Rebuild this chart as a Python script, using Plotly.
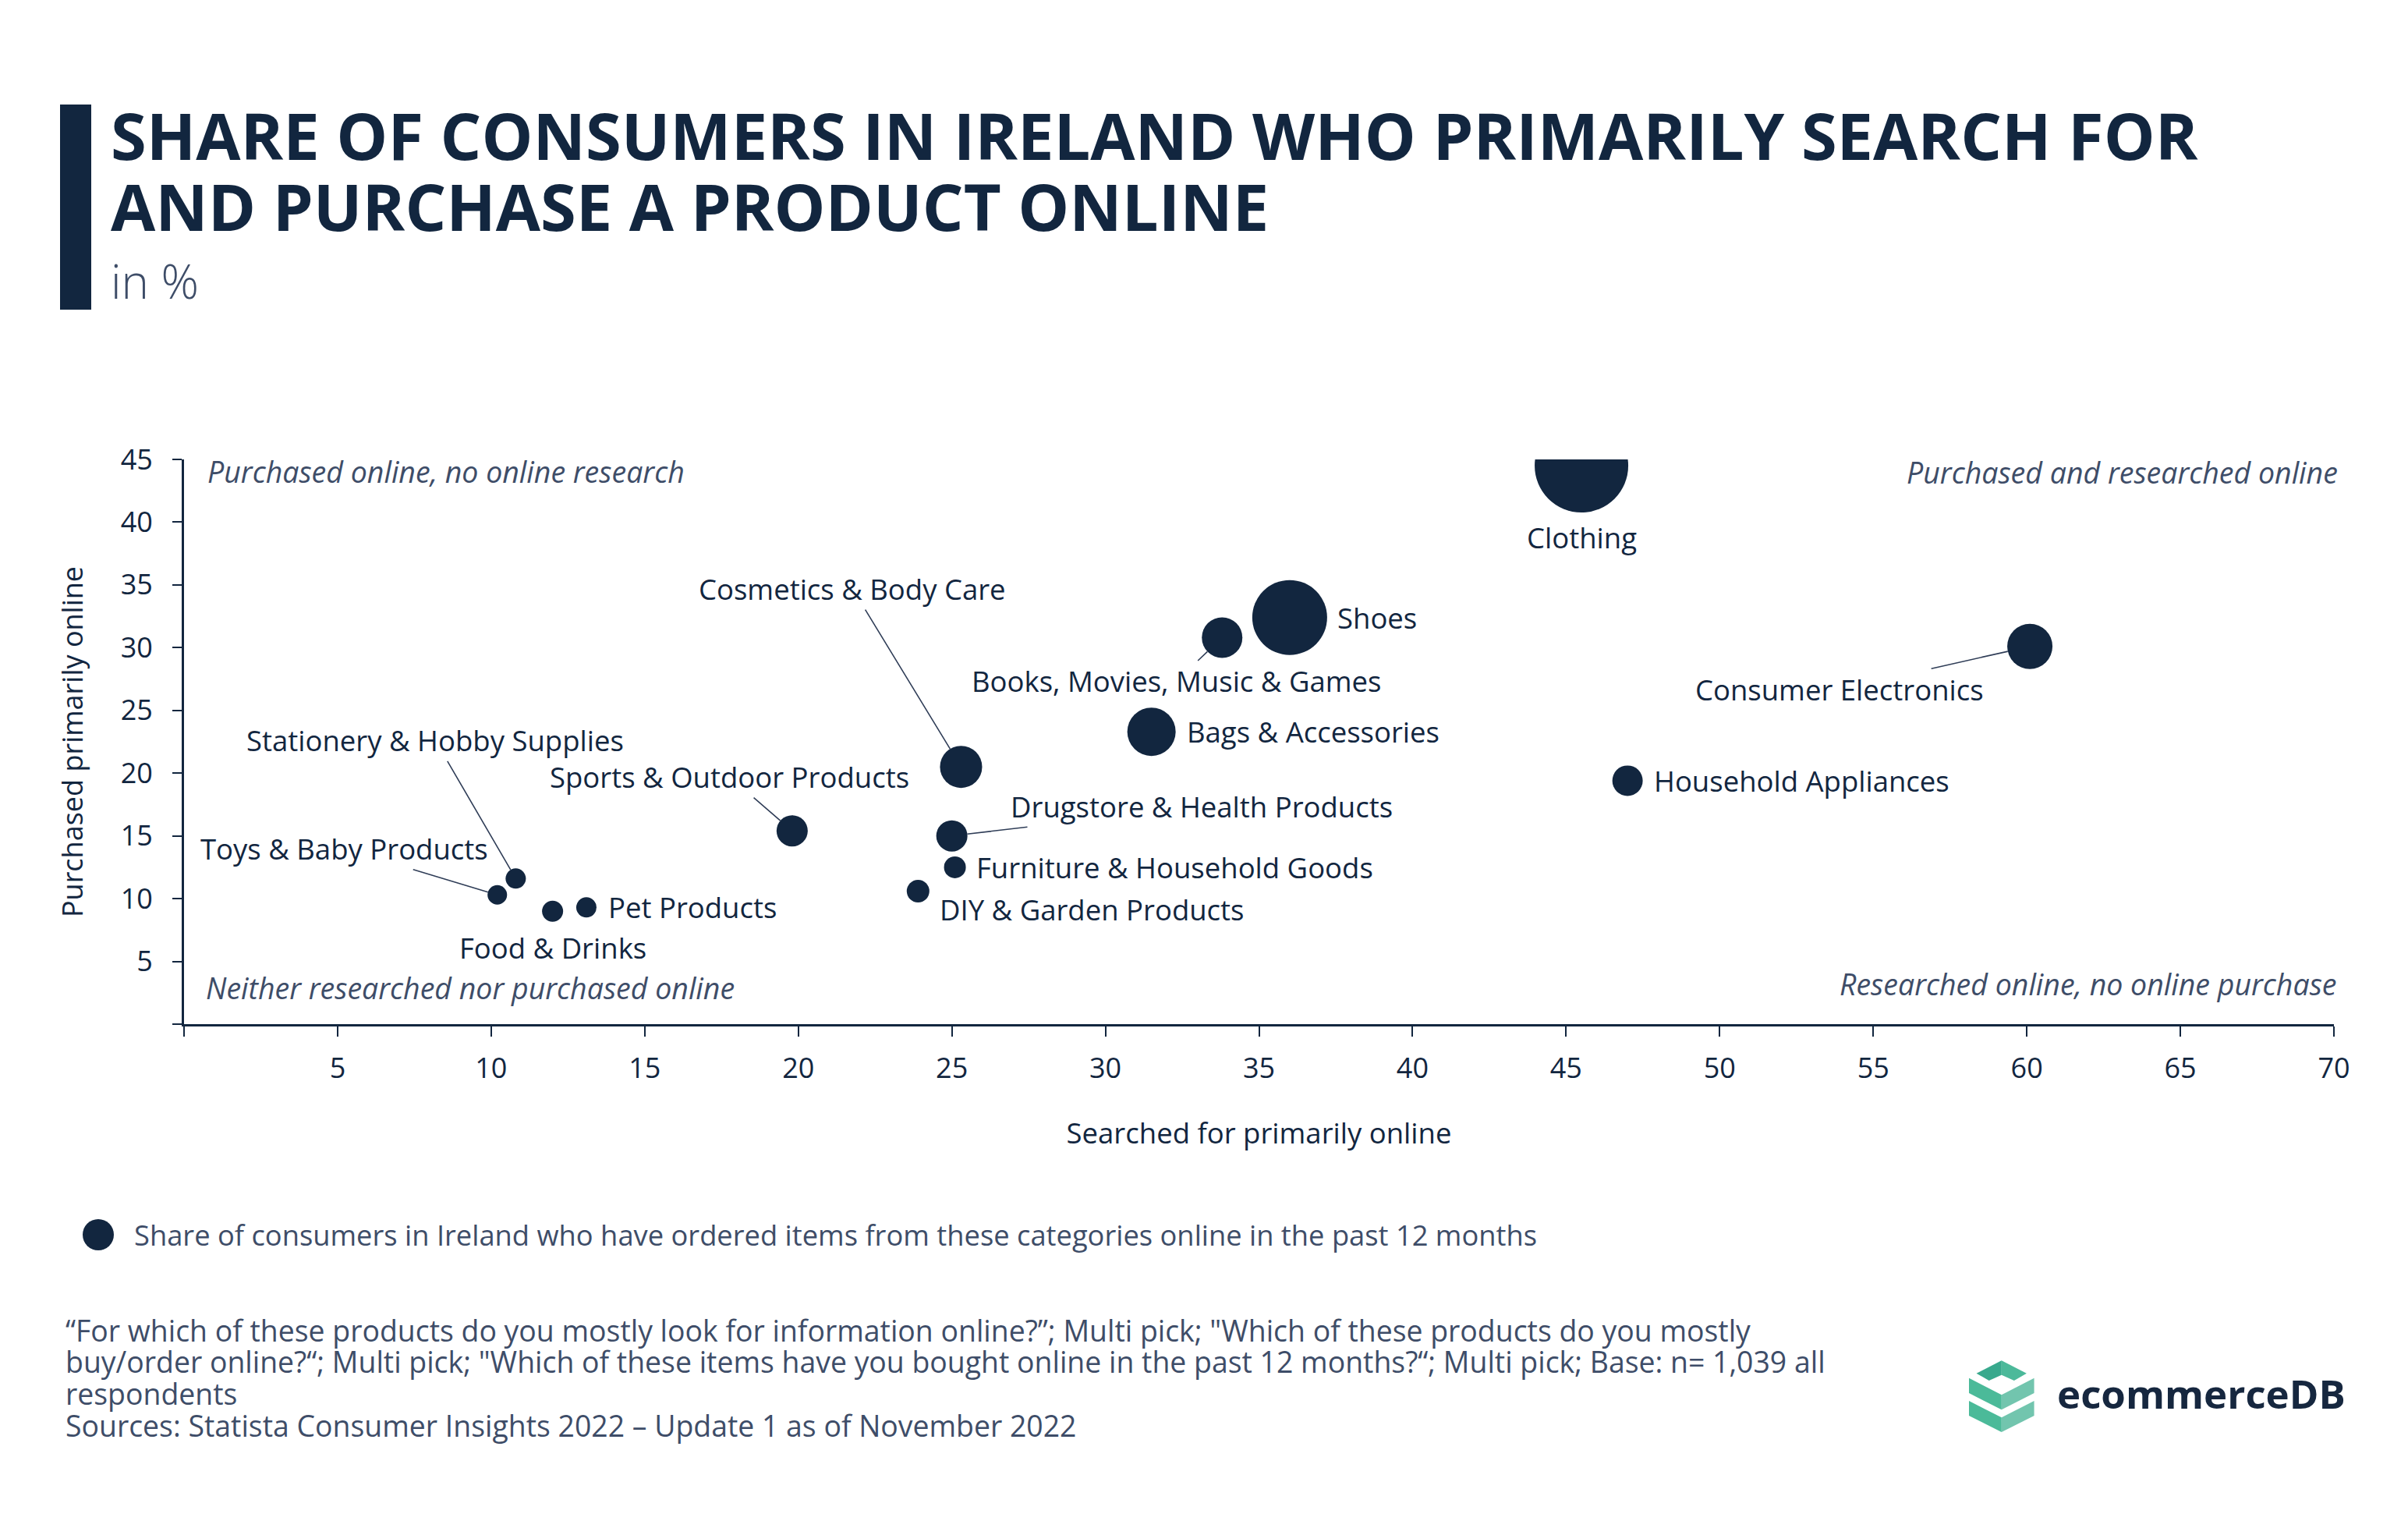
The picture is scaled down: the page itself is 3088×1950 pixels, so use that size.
import plotly.graph_objects as go

# ---------------- data ----------------
categories = [
    "Clothing", "Shoes", "Bags & Accessories", "Consumer Electronics",
    "Cosmetics & Body Care", "Books, Movies, Music & Games",
    "Drugstore & Health Products", "Sports & Outdoor Products",
    "Household Appliances", "DIY & Garden Products",
    "Furniture & Household Goods", "Food & Drinks", "Pet Products",
    "Stationery & Hobby Supplies", "Toys & Baby Products",
]
searched_online = [45.5, 36.0, 31.5, 60.1, 25.3, 33.8, 25.0, 19.8, 47.0, 23.9, 25.1, 12.0, 13.1, 10.8, 10.2]
purchased_online = [44.5, 32.4, 23.3, 30.1, 20.5, 30.8, 15.0, 15.4, 19.4, 10.6, 12.5, 9.0, 9.3, 11.6, 10.3]
ordered_past_12m = [60, 48, 31, 29, 27, 26, 20, 20, 19.5, 14.5, 14, 13.5, 13, 13, 12.5]

x_ticks = [0, 5, 10, 15, 20, 25, 30, 35, 40, 45, 50, 55, 60, 65, 70]
y_ticks = [0, 5, 10, 15, 20, 25, 30, 35, 40, 45]

# ---------------- style ----------------
W, H = 3088, 1950
ML, MR, MT, MB = 236, 95, 589, 637
PW, PH = W - ML - MR, H - MT - MB
NAVY = "#12263f"
GREY = "#3e4d68"
FONT = "Open Sans"
SIZEREF = 0.5  # diameter mode: radius(px) = value / (2*sizeref)


def pxx(x):
    return (x - ML) / PW


def pxy(y):
    return (H - MB - y) / PH


# label placement (pixel offsets relative to bubble)
label_style = {
    "Clothing": dict(kind="below", dy=92),
    "Shoes": dict(kind="right", gap=11, dy=0),
    "Bags & Accessories": dict(kind="right", gap=12, dy=0),
    "Consumer Electronics": dict(kind="arrow", ax=-244, ay=55),
    "Cosmetics & Body Care": dict(kind="arrow", ax=-139, ay=-228),
    "Books, Movies, Music & Games": dict(kind="arrow", ax=-59, ay=56),
    "Drugstore & Health Products": dict(kind="arrow", ax=320, ay=-38),
    "Sports & Outdoor Products": dict(kind="arrow", ax=-80, ay=-69),
    "Household Appliances": dict(kind="right", gap=12, dy=0),
    "DIY & Garden Products": dict(kind="right", gap=11, dy=24),
    "Furniture & Household Goods": dict(kind="right", gap=11, dy=0),
    "Food & Drinks": dict(kind="below", dy=47),
    "Pet Products": dict(kind="right", gap=13, dy=0),
    "Stationery & Hobby Supplies": dict(kind="arrow", ax=-103, ay=-177),
    "Toys & Baby Products": dict(kind="arrow", ax=-196, ay=-59),
}

fig = go.Figure()
fig.add_trace(go.Scatter(
    x=searched_online, y=purchased_online, mode="markers",
    text=categories,
    marker=dict(size=ordered_past_12m, sizemode="diameter", sizeref=SIZEREF,
                color=NAVY, opacity=1, line=dict(width=0)),
    hovertemplate="%{text}<br>Searched: %{x}%<br>Purchased: %{y}%<extra></extra>",
    showlegend=False,
))

annotations = []
label_font = dict(family=FONT, size=36.5, color=NAVY)
for cat, xv, yv, sv in zip(categories, searched_online, purchased_online, ordered_past_12m):
    st = label_style[cat]
    r = sv / (2 * SIZEREF)
    if st["kind"] == "right":
        annotations.append(dict(x=xv, y=yv, xref="x", yref="y", text=cat, showarrow=False,
                                xanchor="left", yanchor="middle", xshift=r + st["gap"],
                                yshift=-st["dy"], font=label_font))
    elif st["kind"] == "below":
        annotations.append(dict(x=xv, y=yv, xref="x", yref="y", text=cat, showarrow=False,
                                xanchor="center", yanchor="middle", yshift=-st["dy"],
                                font=label_font))
    else:
        annotations.append(dict(x=xv, y=yv, xref="x", yref="y", text=cat, showarrow=True,
                                arrowhead=0, arrowwidth=1.6, arrowcolor="#2f3d57",
                                ax=st["ax"], ay=st["ay"], standoff=r, font=label_font))

# quadrant labels
qfont = dict(family=FONT, size=37.5, color=GREY, style="italic")
annotations += [
    dict(x=0, y=1, xref="paper", yref="paper", text="Purchased online, no online research",
         showarrow=False, xanchor="left", yanchor="middle", xshift=28, yshift=-15, font=qfont),
    dict(x=1, y=1, xref="paper", yref="paper", text="Purchased and researched online",
         showarrow=False, xanchor="right", yanchor="middle", xshift=7, yshift=-16, font=qfont),
    dict(x=0, y=0, xref="paper", yref="paper", text="Neither researched nor purchased online",
         showarrow=False, xanchor="left", yanchor="middle", xshift=26, yshift=47, font=qfont),
    dict(x=1, y=0, xref="paper", yref="paper", text="Researched online, no online purchase",
         showarrow=False, xanchor="right", yanchor="middle", xshift=6, yshift=52, font=qfont),
]

# title block
annotations += [
    dict(x=pxx(140), y=pxy(172), xref="paper", yref="paper",
         text="<b>SHARE OF CONSUMERS IN IRELAND WHO PRIMARILY SEARCH FOR</b>",
         showarrow=False, xanchor="left", yanchor="middle",
         font=dict(family=FONT, size=83, color=NAVY)),
    dict(x=pxx(140), y=pxy(263), xref="paper", yref="paper",
         text="<b>AND PURCHASE A PRODUCT ONLINE</b>",
         showarrow=False, xanchor="left", yanchor="middle",
         font=dict(family=FONT, size=83, color=NAVY)),
    dict(x=pxx(140), y=pxy(360), xref="paper", yref="paper", text="in %",
         showarrow=False, xanchor="left", yanchor="middle",
         font=dict(family=FONT, size=60, color=GREY, weight=300)),
]

# legend text
annotations.append(dict(
    x=pxx(170), y=pxy(1583), xref="paper", yref="paper",
    text="Share of consumers in Ireland who have ordered items from these categories online in the past 12 months",
    showarrow=False, xanchor="left", yanchor="middle",
    font=dict(family=FONT, size=36.3, color=GREY)))

# footer
footer_lines = [
    "\u201cFor which of these products do you mostly look for information online?\u201d; Multi pick; \"Which of these products do you mostly",
    "buy/order online?\u201c; Multi pick; \"Which of these items have you bought online in the past 12 months?\u201c; Multi pick; Base: n= 1,039 all",
    "respondents",
    "Sources: Statista Consumer Insights 2022 \u2013 Update 1 as of November 2022",
]
for i, line in enumerate(footer_lines):
    annotations.append(dict(
        x=pxx(82), y=pxy(1705 + i * 40.7), xref="paper", yref="paper", text=line,
        showarrow=False, xanchor="left", yanchor="middle",
        font=dict(family=FONT, size=37.4, color=GREY)))

# logo text
annotations.append(dict(
    x=pxx(2636), y=pxy(1786), xref="paper", yref="paper", text="<b>ecommerceDB</b>",
    showarrow=False, xanchor="left", yanchor="middle",
    font=dict(family=FONT, size=51, color="#16273f")))

shapes = []
# title bar
shapes.append(dict(type="rect", xref="paper", yref="paper",
                   x0=pxx(77), x1=pxx(117), y0=pxy(397), y1=pxy(134),
                   fillcolor=NAVY, line=dict(width=0)))
# legend dot
shapes.append(dict(type="circle", xref="paper", yref="paper",
                   x0=pxx(106), x1=pxx(146), y0=pxy(1603), y1=pxy(1563),
                   fillcolor=NAVY, line=dict(width=0)))


def poly(pts):
    return "M " + " L ".join(f"{pxx(a):.5f},{pxy(b):.5f}" for a, b in pts) + " Z"


logo_parts = [
    ([(2534.6, 1760.7), (2566.8, 1744.3), (2566.8, 1762.7), (2550.7, 1770)], "#38a98d"),
    ([(2566.8, 1744.3), (2598.9, 1760.7), (2582.9, 1770), (2566.8, 1762.7)], "#4cb99a"),
    ([(2525, 1766.7), (2566.8, 1788.3), (2566.8, 1807.3), (2525, 1786)], "#4bba99"),
    ([(2566.8, 1788.3), (2608.6, 1766.7), (2608.6, 1786), (2566.8, 1807.3)], "#72c5ae"),
    ([(2525, 1796), (2566.8, 1817.3), (2566.8, 1836), (2525, 1815)], "#4bba99"),
    ([(2566.8, 1817.3), (2608.6, 1796), (2608.6, 1815), (2566.8, 1836)], "#72c5ae"),
]
for pts, col in logo_parts:
    shapes.append(dict(type="path", xref="paper", yref="paper", path=poly(pts),
                       fillcolor=col, line=dict(width=0)))

fig.update_layout(
    width=W, height=H, autosize=False,
    margin=dict(l=ML, r=MR, t=MT, b=MB, pad=0),
    paper_bgcolor="white", plot_bgcolor="white",
    font=dict(family=FONT, color=NAVY),
    showlegend=False,
    annotations=annotations,
    shapes=shapes,
    xaxis=dict(
        range=[0, 70], tickvals=x_ticks,
        ticktext=["" if v == 0 else str(v) for v in x_ticks],
        showgrid=False, zeroline=False, showline=True, linecolor=NAVY, linewidth=3,
        ticks="outside", ticklen=13, tickwidth=2, tickcolor=NAVY,
        tickfont=dict(family=FONT, size=36, color=NAVY), ticklabelstandoff=10,
        title=dict(text="Searched for primarily online", standoff=49,
                   font=dict(family=FONT, size=36.5, color=NAVY)),
        fixedrange=True,
    ),
    yaxis=dict(
        range=[0, 45], tickvals=y_ticks,
        ticktext=["" if v == 0 else str(v) for v in y_ticks],
        showgrid=False, zeroline=False, showline=True, linecolor=NAVY, linewidth=3,
        ticks="outside", ticklen=12, tickwidth=2, tickcolor=NAVY,
        tickfont=dict(family=FONT, size=36, color=NAVY), ticklabelstandoff=18,
        title=dict(text="Purchased primarily online", standoff=38,
                   font=dict(family=FONT, size=36, color=NAVY)),
        fixedrange=True,
    ),
)

fig.write_html("out.html")
